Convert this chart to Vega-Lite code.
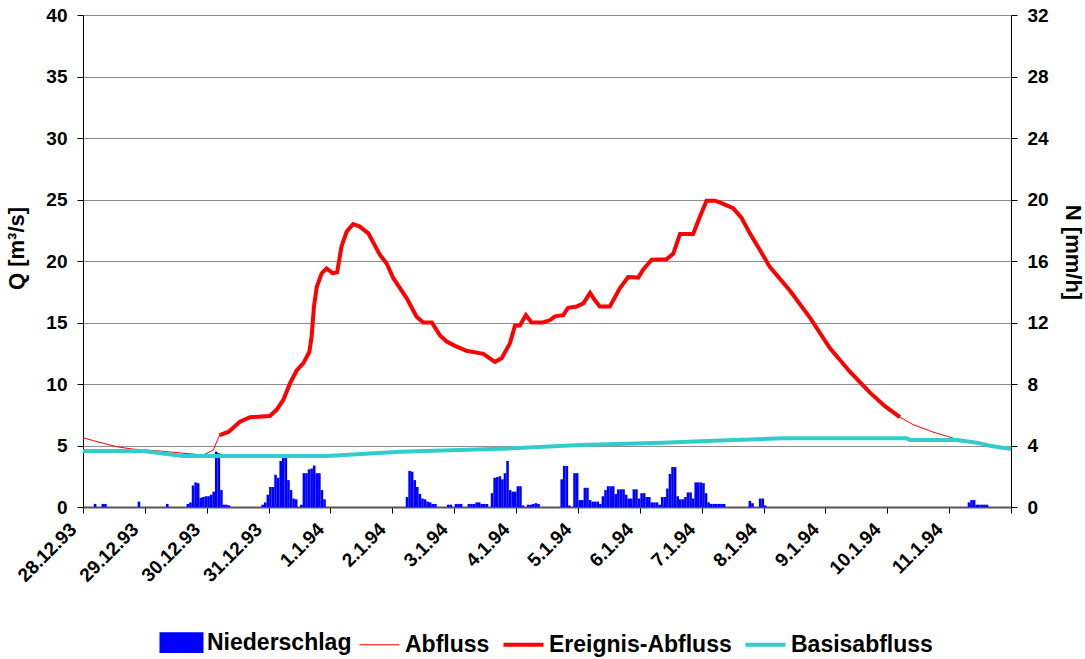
{
  "$schema": "https://vega.github.io/schema/vega-lite/v6.json",
  "width": 928,
  "height": 492,
  "autosize": {"type": "none"},
  "padding": {"left": 83, "top": 15, "right": 74, "bottom": 152},
  "background": "white",
  "config": {
    "font": "Liberation Sans",
    "view": {"stroke": null},
    "axis": {
      "labelFont": "Liberation Sans",
      "labelFontWeight": "bold",
      "labelFontSize": 19,
      "labelColor": "black",
      "titleFont": "Liberation Sans",
      "titleFontSize": 22,
      "titleFontWeight": "bold",
      "titleColor": "black",
      "tickColor": "black",
      "tickSize": 6,
      "domainColor": "black",
      "gridColor": "#8c8c8c",
      "gridWidth": 1
    },
    "legend": {
      "orient": "none",
      "legendX": 87,
      "legendY": 615,
      "direction": "horizontal",
      "labelFont": "Liberation Sans",
      "labelFontSize": 23,
      "labelFontWeight": "bold",
      "labelColor": "black",
      "labelLimit": 400,
      "labelOffset": 14,
      "columnPadding": 5,
      "symbolSize": 1600,
      "titleFontSize": 1,
      "titleOpacity": 0,
      "titlePadding": 0
    }
  },
  "datasets": {
    "rain": [
      {"t": "1993-12-28T04:00", "N": 0.2}, {"t": "1993-12-28T07:00", "N": 0.2}, {"t": "1993-12-28T08:00", "N": 0.2}, {"t": "1993-12-28T21:00", "N": 0.35},
      {"t": "1993-12-29T08:00", "N": 0.2}, {"t": "1993-12-29T16:00", "N": 0.2}, {"t": "1993-12-29T17:00", "N": 0.3}, {"t": "1993-12-29T18:00", "N": 1.4}, {"t": "1993-12-29T19:00", "N": 1.6}, {"t": "1993-12-29T20:00", "N": 1.55}, {"t": "1993-12-29T21:00", "N": 0.6}, {"t": "1993-12-29T22:00", "N": 0.65}, {"t": "1993-12-29T23:00", "N": 0.7},
      {"t": "1993-12-30T00:00", "N": 0.7}, {"t": "1993-12-30T01:00", "N": 0.8}, {"t": "1993-12-30T02:00", "N": 1.0}, {"t": "1993-12-30T03:00", "N": 3.6}, {"t": "1993-12-30T04:00", "N": 3.5}, {"t": "1993-12-30T05:00", "N": 1.1}, {"t": "1993-12-30T06:00", "N": 0.15}, {"t": "1993-12-30T07:00", "N": 0.15}, {"t": "1993-12-30T08:00", "N": 0.1}, {"t": "1993-12-30T21:00", "N": 0.15}, {"t": "1993-12-30T22:00", "N": 0.3}, {"t": "1993-12-30T23:00", "N": 0.8},
      {"t": "1993-12-31T00:00", "N": 1.3}, {"t": "1993-12-31T01:00", "N": 1.3}, {"t": "1993-12-31T02:00", "N": 2.1}, {"t": "1993-12-31T03:00", "N": 1.9}, {"t": "1993-12-31T04:00", "N": 3.0}, {"t": "1993-12-31T05:00", "N": 3.45}, {"t": "1993-12-31T06:00", "N": 3.45}, {"t": "1993-12-31T07:00", "N": 1.75}, {"t": "1993-12-31T08:00", "N": 1.1}, {"t": "1993-12-31T09:00", "N": 0.55}, {"t": "1993-12-31T10:00", "N": 0.5}, {"t": "1993-12-31T12:00", "N": 0.15}, {"t": "1993-12-31T13:00", "N": 2.2}, {"t": "1993-12-31T14:00", "N": 2.2}, {"t": "1993-12-31T15:00", "N": 2.45}, {"t": "1993-12-31T16:00", "N": 2.5}, {"t": "1993-12-31T17:00", "N": 2.7}, {"t": "1993-12-31T18:00", "N": 2.2}, {"t": "1993-12-31T19:00", "N": 2.2}, {"t": "1993-12-31T20:00", "N": 1.1}, {"t": "1993-12-31T21:00", "N": 0.5},
      {"t": "1994-01-02T05:00", "N": 0.65}, {"t": "1994-01-02T06:00", "N": 2.35}, {"t": "1994-01-02T07:00", "N": 2.3}, {"t": "1994-01-02T08:00", "N": 1.75}, {"t": "1994-01-02T09:00", "N": 1.3}, {"t": "1994-01-02T10:00", "N": 0.85}, {"t": "1994-01-02T11:00", "N": 0.55}, {"t": "1994-01-02T12:00", "N": 0.5}, {"t": "1994-01-02T13:00", "N": 0.35}, {"t": "1994-01-02T14:00", "N": 0.3}, {"t": "1994-01-02T15:00", "N": 0.2}, {"t": "1994-01-02T16:00", "N": 0.2}, {"t": "1994-01-02T21:00", "N": 0.15}, {"t": "1994-01-02T22:00", "N": 0.15},
      {"t": "1994-01-03T00:00", "N": 0.2}, {"t": "1994-01-03T01:00", "N": 0.2}, {"t": "1994-01-03T02:00", "N": 0.2}, {"t": "1994-01-03T05:00", "N": 0.2}, {"t": "1994-01-03T06:00", "N": 0.2}, {"t": "1994-01-03T07:00", "N": 0.2}, {"t": "1994-01-03T08:00", "N": 0.3}, {"t": "1994-01-03T09:00", "N": 0.3}, {"t": "1994-01-03T10:00", "N": 0.2}, {"t": "1994-01-03T11:00", "N": 0.2}, {"t": "1994-01-03T12:00", "N": 0.2}, {"t": "1994-01-03T14:00", "N": 0.9}, {"t": "1994-01-03T15:00", "N": 1.9}, {"t": "1994-01-03T16:00", "N": 1.95}, {"t": "1994-01-03T17:00", "N": 2.0}, {"t": "1994-01-03T18:00", "N": 1.8}, {"t": "1994-01-03T19:00", "N": 2.2}, {"t": "1994-01-03T20:00", "N": 3.0}, {"t": "1994-01-03T21:00", "N": 1.1}, {"t": "1994-01-03T22:00", "N": 1.0}, {"t": "1994-01-03T23:00", "N": 1.0},
      {"t": "1994-01-04T00:00", "N": 1.35}, {"t": "1994-01-04T01:00", "N": 1.35}, {"t": "1994-01-04T02:00", "N": 0.1}, {"t": "1994-01-04T04:00", "N": 0.15}, {"t": "1994-01-04T05:00", "N": 0.15}, {"t": "1994-01-04T06:00", "N": 0.2}, {"t": "1994-01-04T07:00", "N": 0.25}, {"t": "1994-01-04T08:00", "N": 0.2}, {"t": "1994-01-04T17:00", "N": 1.8}, {"t": "1994-01-04T18:00", "N": 2.67}, {"t": "1994-01-04T19:00", "N": 2.67}, {"t": "1994-01-04T20:00", "N": 0.1}, {"t": "1994-01-04T22:00", "N": 2.2}, {"t": "1994-01-04T23:00", "N": 2.2},
      {"t": "1994-01-05T00:00", "N": 0.45}, {"t": "1994-01-05T01:00", "N": 0.45}, {"t": "1994-01-05T02:00", "N": 1.25}, {"t": "1994-01-05T03:00", "N": 1.25}, {"t": "1994-01-05T04:00", "N": 0.45}, {"t": "1994-01-05T05:00", "N": 0.35}, {"t": "1994-01-05T06:00", "N": 0.35}, {"t": "1994-01-05T07:00", "N": 0.35}, {"t": "1994-01-05T08:00", "N": 0.2}, {"t": "1994-01-05T09:00", "N": 0.7}, {"t": "1994-01-05T10:00", "N": 1.1}, {"t": "1994-01-05T11:00", "N": 1.35}, {"t": "1994-01-05T12:00", "N": 1.35}, {"t": "1994-01-05T13:00", "N": 1.35}, {"t": "1994-01-05T14:00", "N": 0.85}, {"t": "1994-01-05T15:00", "N": 1.15}, {"t": "1994-01-05T16:00", "N": 1.15}, {"t": "1994-01-05T17:00", "N": 1.15}, {"t": "1994-01-05T18:00", "N": 0.8}, {"t": "1994-01-05T19:00", "N": 0.55}, {"t": "1994-01-05T20:00", "N": 0.55}, {"t": "1994-01-05T21:00", "N": 1.15}, {"t": "1994-01-05T22:00", "N": 1.15}, {"t": "1994-01-05T23:00", "N": 0.55},
      {"t": "1994-01-06T00:00", "N": 0.9}, {"t": "1994-01-06T01:00", "N": 0.9}, {"t": "1994-01-06T02:00", "N": 0.65}, {"t": "1994-01-06T03:00", "N": 0.65}, {"t": "1994-01-06T04:00", "N": 0.3}, {"t": "1994-01-06T05:00", "N": 0.3}, {"t": "1994-01-06T06:00", "N": 0.3}, {"t": "1994-01-06T07:00", "N": 0.15}, {"t": "1994-01-06T08:00", "N": 0.65}, {"t": "1994-01-06T09:00", "N": 0.65}, {"t": "1994-01-06T10:00", "N": 1.2}, {"t": "1994-01-06T11:00", "N": 2.15}, {"t": "1994-01-06T12:00", "N": 2.6}, {"t": "1994-01-06T13:00", "N": 2.6}, {"t": "1994-01-06T14:00", "N": 0.7}, {"t": "1994-01-06T15:00", "N": 0.5}, {"t": "1994-01-06T16:00", "N": 0.5}, {"t": "1994-01-06T17:00", "N": 0.65}, {"t": "1994-01-06T18:00", "N": 0.95}, {"t": "1994-01-06T19:00", "N": 0.95}, {"t": "1994-01-06T20:00", "N": 0.55}, {"t": "1994-01-06T21:00", "N": 1.6}, {"t": "1994-01-06T22:00", "N": 1.6}, {"t": "1994-01-06T23:00", "N": 1.6},
      {"t": "1994-01-07T00:00", "N": 1.55}, {"t": "1994-01-07T01:00", "N": 0.9}, {"t": "1994-01-07T02:00", "N": 0.3}, {"t": "1994-01-07T03:00", "N": 0.2}, {"t": "1994-01-07T04:00", "N": 0.2}, {"t": "1994-01-07T05:00", "N": 0.2}, {"t": "1994-01-07T06:00", "N": 0.2}, {"t": "1994-01-07T07:00", "N": 0.2}, {"t": "1994-01-07T08:00", "N": 0.2}, {"t": "1994-01-07T18:00", "N": 0.4}, {"t": "1994-01-07T19:00", "N": 0.25}, {"t": "1994-01-07T22:00", "N": 0.55}, {"t": "1994-01-07T23:00", "N": 0.55},
      {"t": "1994-01-08T00:00", "N": 0.1},
      {"t": "1994-01-11T07:00", "N": 0.3}, {"t": "1994-01-11T08:00", "N": 0.45}, {"t": "1994-01-11T09:00", "N": 0.45}, {"t": "1994-01-11T10:00", "N": 0.15}, {"t": "1994-01-11T11:00", "N": 0.15}, {"t": "1994-01-11T12:00", "N": 0.15}, {"t": "1994-01-11T13:00", "N": 0.15}, {"t": "1994-01-11T14:00", "N": 0.15}
    ],
    "flow": [
      {"t": "1993-12-28T00:00", "s": "Abfluss", "Q": 5.63},
      {"t": "1993-12-28T04:00", "s": "Abfluss", "Q": 5.4},
      {"t": "1993-12-28T07:54", "s": "Abfluss", "Q": 5.18},
      {"t": "1993-12-28T13:06", "s": "Abfluss", "Q": 4.9},
      {"t": "1993-12-28T19:30", "s": "Abfluss", "Q": 4.7},
      {"t": "1993-12-29T06:00", "s": "Abfluss", "Q": 4.55},
      {"t": "1993-12-29T16:00", "s": "Abfluss", "Q": 4.35},
      {"t": "1993-12-29T22:42", "s": "Abfluss", "Q": 4.23},
      {"t": "1993-12-30T02:30", "s": "Abfluss", "Q": 4.63},
      {"t": "1994-01-10T10:00", "s": "Abfluss", "Q": 6.7},
      {"t": "1994-01-10T17:42", "s": "Abfluss", "Q": 6.1},
      {"t": "1994-01-11T01:30", "s": "Abfluss", "Q": 5.6},
      {"t": "1994-01-11T03:00", "s": "Abfluss", "Q": 5.45},
      {"t": "1994-01-11T10:48", "s": "Abfluss", "Q": 5.23},
      {"t": "1994-01-11T15:48", "s": "Abfluss", "Q": 4.98},
      {"t": "1994-01-12T00:00", "s": "Abfluss", "Q": 4.72},
      {"t": "1993-12-30T05:00", "s": "Ereignis-Abfluss", "Q": 5.85},
      {"t": "1993-12-30T08:24", "s": "Ereignis-Abfluss", "Q": 6.1},
      {"t": "1993-12-30T12:54", "s": "Ereignis-Abfluss", "Q": 6.93},
      {"t": "1993-12-30T16:48", "s": "Ereignis-Abfluss", "Q": 7.3},
      {"t": "1993-12-31T00:30", "s": "Ereignis-Abfluss", "Q": 7.4},
      {"t": "1993-12-31T03:06", "s": "Ereignis-Abfluss", "Q": 7.9},
      {"t": "1993-12-31T05:42", "s": "Ereignis-Abfluss", "Q": 8.7},
      {"t": "1993-12-31T08:18", "s": "Ereignis-Abfluss", "Q": 10.05},
      {"t": "1993-12-31T10:54", "s": "Ereignis-Abfluss", "Q": 11.1},
      {"t": "1993-12-31T13:30", "s": "Ereignis-Abfluss", "Q": 11.7},
      {"t": "1993-12-31T15:48", "s": "Ereignis-Abfluss", "Q": 12.6},
      {"t": "1993-12-31T16:42", "s": "Ereignis-Abfluss", "Q": 13.85},
      {"t": "1993-12-31T17:36", "s": "Ereignis-Abfluss", "Q": 16.3},
      {"t": "1993-12-31T18:42", "s": "Ereignis-Abfluss", "Q": 17.9},
      {"t": "1993-12-31T20:36", "s": "Ereignis-Abfluss", "Q": 19.0},
      {"t": "1993-12-31T22:30", "s": "Ereignis-Abfluss", "Q": 19.4},
      {"t": "1994-01-01T00:54", "s": "Ereignis-Abfluss", "Q": 19.0},
      {"t": "1994-01-01T02:36", "s": "Ereignis-Abfluss", "Q": 19.1},
      {"t": "1994-01-01T04:18", "s": "Ereignis-Abfluss", "Q": 21.2},
      {"t": "1994-01-01T06:18", "s": "Ereignis-Abfluss", "Q": 22.4},
      {"t": "1994-01-01T08:48", "s": "Ereignis-Abfluss", "Q": 23.0},
      {"t": "1994-01-01T11:24", "s": "Ereignis-Abfluss", "Q": 22.8},
      {"t": "1994-01-01T14:42", "s": "Ereignis-Abfluss", "Q": 22.25},
      {"t": "1994-01-01T19:12", "s": "Ereignis-Abfluss", "Q": 20.5},
      {"t": "1994-01-01T21:48", "s": "Ereignis-Abfluss", "Q": 19.8},
      {"t": "1994-01-02T00:24", "s": "Ereignis-Abfluss", "Q": 18.6},
      {"t": "1994-01-02T05:36", "s": "Ereignis-Abfluss", "Q": 16.97},
      {"t": "1994-01-02T09:24", "s": "Ereignis-Abfluss", "Q": 15.47},
      {"t": "1994-01-02T12:00", "s": "Ereignis-Abfluss", "Q": 15.0},
      {"t": "1994-01-02T15:18", "s": "Ereignis-Abfluss", "Q": 15.0},
      {"t": "1994-01-02T18:30", "s": "Ereignis-Abfluss", "Q": 13.95},
      {"t": "1994-01-02T21:06", "s": "Ereignis-Abfluss", "Q": 13.45},
      {"t": "1994-01-03T00:18", "s": "Ereignis-Abfluss", "Q": 13.1},
      {"t": "1994-01-03T04:48", "s": "Ereignis-Abfluss", "Q": 12.7},
      {"t": "1994-01-03T11:18", "s": "Ereignis-Abfluss", "Q": 12.45},
      {"t": "1994-01-03T15:48", "s": "Ereignis-Abfluss", "Q": 11.8},
      {"t": "1994-01-03T18:24", "s": "Ereignis-Abfluss", "Q": 12.1},
      {"t": "1994-01-03T21:36", "s": "Ereignis-Abfluss", "Q": 13.3},
      {"t": "1994-01-03T23:36", "s": "Ereignis-Abfluss", "Q": 14.75},
      {"t": "1994-01-04T01:30", "s": "Ereignis-Abfluss", "Q": 14.75},
      {"t": "1994-01-04T03:48", "s": "Ereignis-Abfluss", "Q": 15.6},
      {"t": "1994-01-04T06:00", "s": "Ereignis-Abfluss", "Q": 15.0},
      {"t": "1994-01-04T10:30", "s": "Ereignis-Abfluss", "Q": 15.0},
      {"t": "1994-01-04T13:12", "s": "Ereignis-Abfluss", "Q": 15.2},
      {"t": "1994-01-04T15:06", "s": "Ereignis-Abfluss", "Q": 15.5},
      {"t": "1994-01-04T18:18", "s": "Ereignis-Abfluss", "Q": 15.6},
      {"t": "1994-01-04T20:12", "s": "Ereignis-Abfluss", "Q": 16.2},
      {"t": "1994-01-04T23:30", "s": "Ereignis-Abfluss", "Q": 16.3},
      {"t": "1994-01-05T02:06", "s": "Ereignis-Abfluss", "Q": 16.55},
      {"t": "1994-01-05T04:42", "s": "Ereignis-Abfluss", "Q": 17.4},
      {"t": "1994-01-05T06:36", "s": "Ereignis-Abfluss", "Q": 16.8},
      {"t": "1994-01-05T08:30", "s": "Ereignis-Abfluss", "Q": 16.3},
      {"t": "1994-01-05T12:24", "s": "Ereignis-Abfluss", "Q": 16.3},
      {"t": "1994-01-05T16:18", "s": "Ereignis-Abfluss", "Q": 17.8},
      {"t": "1994-01-05T19:30", "s": "Ereignis-Abfluss", "Q": 18.7},
      {"t": "1994-01-05T23:24", "s": "Ereignis-Abfluss", "Q": 18.65},
      {"t": "1994-01-06T01:18", "s": "Ereignis-Abfluss", "Q": 19.3},
      {"t": "1994-01-06T04:36", "s": "Ereignis-Abfluss", "Q": 20.1},
      {"t": "1994-01-06T10:24", "s": "Ereignis-Abfluss", "Q": 20.15},
      {"t": "1994-01-06T13:00", "s": "Ereignis-Abfluss", "Q": 20.6},
      {"t": "1994-01-06T15:36", "s": "Ereignis-Abfluss", "Q": 22.2},
      {"t": "1994-01-06T20:42", "s": "Ereignis-Abfluss", "Q": 22.2},
      {"t": "1994-01-06T23:18", "s": "Ereignis-Abfluss", "Q": 23.6},
      {"t": "1994-01-07T01:54", "s": "Ereignis-Abfluss", "Q": 24.9},
      {"t": "1994-01-07T05:12", "s": "Ereignis-Abfluss", "Q": 24.9},
      {"t": "1994-01-07T07:42", "s": "Ereignis-Abfluss", "Q": 24.7},
      {"t": "1994-01-07T12:12", "s": "Ereignis-Abfluss", "Q": 24.3},
      {"t": "1994-01-07T15:30", "s": "Ereignis-Abfluss", "Q": 23.5},
      {"t": "1994-01-07T18:42", "s": "Ereignis-Abfluss", "Q": 22.25},
      {"t": "1994-01-07T22:36", "s": "Ereignis-Abfluss", "Q": 20.9},
      {"t": "1994-01-08T02:30", "s": "Ereignis-Abfluss", "Q": 19.5},
      {"t": "1994-01-08T10:12", "s": "Ereignis-Abfluss", "Q": 17.6},
      {"t": "1994-01-08T18:00", "s": "Ereignis-Abfluss", "Q": 15.4},
      {"t": "1994-01-09T01:48", "s": "Ereignis-Abfluss", "Q": 12.9},
      {"t": "1994-01-09T09:30", "s": "Ereignis-Abfluss", "Q": 11.0},
      {"t": "1994-01-09T17:18", "s": "Ereignis-Abfluss", "Q": 9.3},
      {"t": "1994-01-09T23:06", "s": "Ereignis-Abfluss", "Q": 8.2},
      {"t": "1994-01-10T04:54", "s": "Ereignis-Abfluss", "Q": 7.3},
      {"t": "1993-12-28T00:00", "s": "Basisabfluss", "Q": 4.55},
      {"t": "1993-12-28T23:18", "s": "Basisabfluss", "Q": 4.55},
      {"t": "1993-12-29T14:48", "s": "Basisabfluss", "Q": 4.15},
      {"t": "1993-12-31T22:36", "s": "Basisabfluss", "Q": 4.15},
      {"t": "1994-01-02T03:00", "s": "Basisabfluss", "Q": 4.5},
      {"t": "1994-01-03T22:48", "s": "Basisabfluss", "Q": 4.77},
      {"t": "1994-01-05T00:48", "s": "Basisabfluss", "Q": 5.04},
      {"t": "1994-01-06T09:00", "s": "Basisabfluss", "Q": 5.23},
      {"t": "1994-01-07T04:24", "s": "Basisabfluss", "Q": 5.39},
      {"t": "1994-01-08T07:30", "s": "Basisabfluss", "Q": 5.58},
      {"t": "1994-01-10T07:36", "s": "Basisabfluss", "Q": 5.58},
      {"t": "1994-01-10T08:48", "s": "Basisabfluss", "Q": 5.45},
      {"t": "1994-01-11T03:00", "s": "Basisabfluss", "Q": 5.45},
      {"t": "1994-01-11T10:48", "s": "Basisabfluss", "Q": 5.23},
      {"t": "1994-01-11T15:48", "s": "Basisabfluss", "Q": 4.98},
      {"t": "1994-01-12T00:00", "s": "Basisabfluss", "Q": 4.72}
    ]
  },
  "layer": [
    {
      "data": {"name": "rain"},
      "mark": {"type": "bar", "binSpacing": 0},
      "encoding": {
        "x": {
          "field": "t", "type": "temporal", "timeUnit": "yearmonthdatehours",
          "scale": {"domain": [{"year": 1993, "month": 12, "date": 28}, {"year": 1994, "month": 1, "date": 12}], "nice": false},
          "axis": {
            "title": null, "tickCount": {"interval": "day", "step": 1}, "grid": false,
            "labelAngle": -45, "labelAlign": "right", "labelBaseline": "middle",
            "labelPadding": 13, "labelOffset": -10,
            "labelExpr": "datum.value >= datetime(1994, 0, 12) ? '' : timeFormat(datum.value, '%-d.%-m.%y')",
            "domainColor": "#555555", "domainWidth": 2, "labelOverlap": false
          }
        },
        "y": {
          "field": "N", "type": "quantitative",
          "scale": {"domain": [0, 32], "nice": false},
          "axis": {"orient": "right", "title": "N [mm/h]", "values": [0, 4, 8, 12, 16, 20, 24, 28, 32], "grid": false, "labelPadding": 10, "titlePadding": 12, "titleY": 237}
        },
        "color": {
          "datum": "Niederschlag", "type": "nominal",
          "scale": {"domain": ["Niederschlag", "Abfluss", "Ereignis-Abfluss", "Basisabfluss"], "range": ["#0000FF", "#FF0000", "#FF0000", "#33CCCC"]},
          "legend": {
            "title": null,
            "encode": {
              "symbols": {
                "update": {
                  "shape": {"signal": "datum.value === 'Niederschlag' ? 'M-1,-0.42H1V0.42H-1Z' : 'M-1,0H1'"},
                  "fill": {"signal": "datum.value === 'Niederschlag' ? '#0000FF' : 'transparent'"},
                  "stroke": {"signal": "datum.value === 'Basisabfluss' ? '#33CCCC' : (datum.value === 'Niederschlag' ? 'transparent' : '#FF0000')"},
                  "strokeWidth": {"signal": "datum.value === 'Abfluss' ? 1 : 4"},
                  "opacity": {"value": 1}
                }
              }
            }
          }
        }
      }
    },
    {
      "data": {"name": "flow"},
      "encoding": {
        "x": {
          "field": "t", "type": "temporal",
          "axis": {
            "title": null, "tickCount": {"interval": "day", "step": 1}, "grid": false,
            "labelAngle": -45, "labelAlign": "right", "labelBaseline": "middle",
            "labelPadding": 13, "labelOffset": -10,
            "labelExpr": "datum.value >= datetime(1994, 0, 12) ? '' : timeFormat(datum.value, '%-d.%-m.%y')",
            "domainColor": "#555555", "domainWidth": 2, "labelOverlap": false
          }
        },
        "y": {
          "field": "Q", "type": "quantitative",
          "scale": {"domain": [0, 40], "nice": false},
          "axis": {"orient": "left", "title": "Q [m³/s]", "values": [0, 5, 10, 15, 20, 25, 30, 35, 40], "grid": true, "labelPadding": 10, "titlePadding": 17, "titleY": 233}
        }
      },
      "layer": [
        {
          "transform": [{"filter": {"field": "s", "oneOf": ["Abfluss", "Ereignis-Abfluss"]}}],
          "mark": {"type": "line", "strokeWidth": 1},
          "encoding": {"color": {"datum": "Abfluss", "type": "nominal"}}
        },
        {
          "transform": [{"filter": {"field": "s", "equal": "Ereignis-Abfluss"}}],
          "mark": {"type": "line", "strokeWidth": 4},
          "encoding": {"color": {"field": "s", "type": "nominal"}}
        },
        {
          "transform": [{"filter": {"field": "s", "equal": "Basisabfluss"}}],
          "mark": {"type": "line", "strokeWidth": 4},
          "encoding": {"color": {"field": "s", "type": "nominal"}}
        }
      ]
    }
  ],
  "resolve": {"scale": {"y": "independent"}}
}
